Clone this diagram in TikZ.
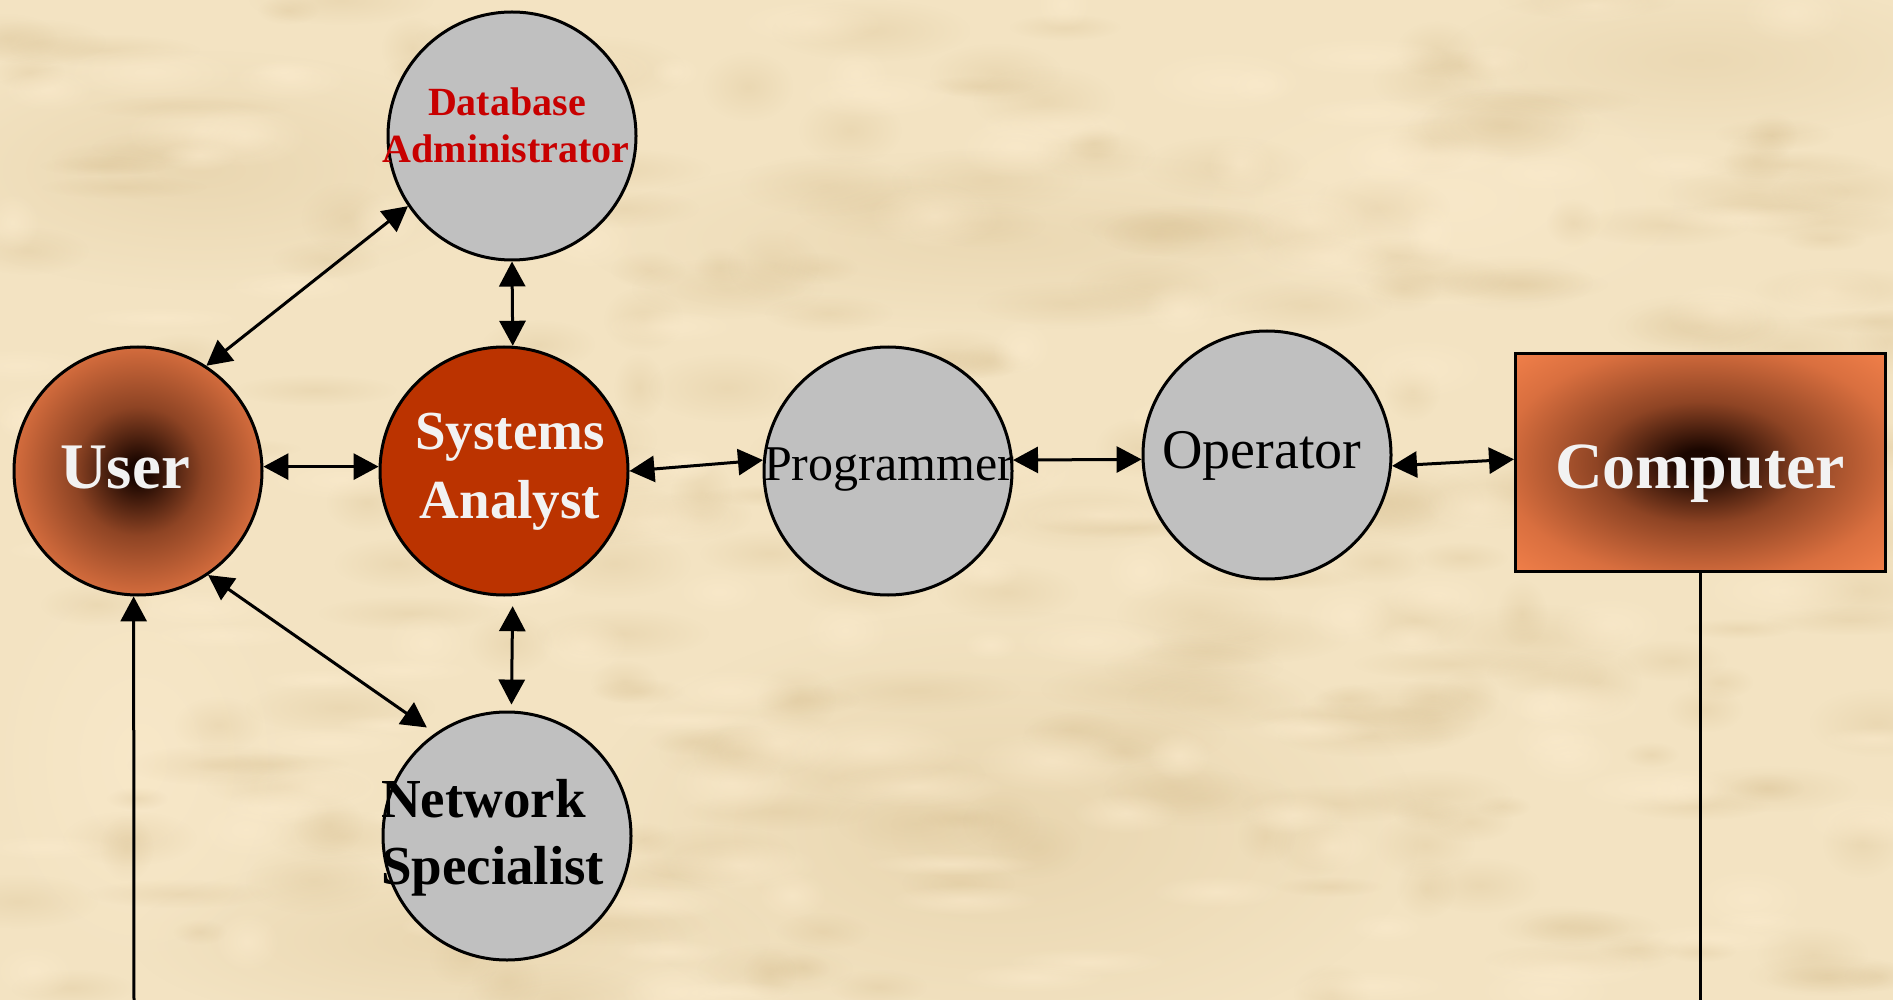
\documentclass[tikz,border=0pt]{standalone}
\usepackage{fontspec}
\setmainfont{Liberation Serif}
\usetikzlibrary{arrows.meta,fadings}

\definecolor{parchment}{HTML}{F3E3C2}
\definecolor{parchdark}{HTML}{D9C193}
\definecolor{parchlight}{HTML}{FBEBCD}
\definecolor{rolegrey}{HTML}{C0C0C0}
\definecolor{analystred}{HTML}{BB3300}
\definecolor{dbared}{HTML}{C80000}
\definecolor{labelwhite}{HTML}{F2F2F2}
\definecolor{glowcore}{HTML}{1A0600}
\definecolor{glowmid}{HTML}{8E4424}
\definecolor{glowedge}{HTML}{D96F3F}
\definecolor{boxedge}{HTML}{F2804A}

% dark core fading out to orange at the rim (50bp reaches the bounding-box corner)
\pgfdeclareradialshading{userglow}{\pgfpoint{0bp}{0bp}}{color(0bp)=(glowcore); color(2bp)=(glowcore); color(13bp)=(glowmid); color(26bp)=(glowedge); color(50bp)=(glowedge)}
\pgfdeclareradialshading{boxglow}{\pgfpoint{0bp}{0bp}}{color(0bp)=(glowcore); color(3bp)=(glowcore); color(14bp)=(glowmid); color(27bp)=(glowedge); color(36bp)=(boxedge); color(50bp)=(boxedge)}

% soft-edged spot used for the paper mottling
\tikzfading[name=softspot, inner color=transparent!0, outer color=transparent!100]

\tikzset{
  role/.style={circle, draw=black, line width=3pt, minimum size=248pt, inner sep=0pt},
  greyrole/.style={role, fill=rolegrey},
  link/.style={line width=3pt, {Triangle[length=25pt,width=26pt]}-{Triangle[length=25pt,width=26pt]}},
  feed/.style={line width=3pt, -{Triangle[length=25pt,width=26pt]}},
  plainline/.style={line width=3pt},
  caption/.style={inner sep=0pt, anchor=base},
  stain/.style={fill=parchdark, path fading=softspot, opacity=#1},
  glint/.style={fill=parchlight, path fading=softspot, opacity=#1},
}

\begin{document}
\begin{tikzpicture}[x=1pt, y=-1pt]
  % parchment backdrop with soft mottling
  \fill[parchment] (0,0) rectangle (1893,1000);
  \useasboundingbox (0,0) rectangle (1893,1000);
  \fill[stain=0.35] (200,170) ellipse (300 and 120);
  \fill[stain=0.30] (1000,240) ellipse (420 and 90);
  \fill[stain=0.40] (1000,830) ellipse (420 and 220);
  \fill[stain=0.35] (450,940) ellipse (320 and 90);
  \fill[stain=0.30] (1700,60) ellipse (260 and 80);
  \fill[glint=0.6] (1450,200) ellipse (280 and 130);
  \fill[glint=0.6] (140,760) ellipse (160 and 220);
  \pgfmathsetseed{4711}
  \foreach \k in {1,...,260}{
    \pgfmathsetmacro{\px}{rnd*1893}
    \pgfmathsetmacro{\py}{rnd*1000}
    \pgfmathsetmacro{\pa}{25+rnd*80}
    \pgfmathsetmacro{\pb}{10+rnd*26}
    \fill[stain=0.32] (\px,\py) ellipse ({\pa} and {\pb});
  }
  \foreach \k in {1,...,140}{
    \pgfmathsetmacro{\px}{rnd*1893}
    \pgfmathsetmacro{\py}{rnd*1000}
    \pgfmathsetmacro{\pa}{25+rnd*70}
    \pgfmathsetmacro{\pb}{10+rnd*24}
    \fill[glint=0.6] (\px,\py) ellipse ({\pa} and {\pb});
  }

  % roles
  \node[greyrole] (dba)  at (512,136) {};
  \node[role, fill=analystred] (sa) at (504,471) {};
  \node[role, shading=userglow] (user) at (138,471) {};
  \node[greyrole] (net)  at (507,836) {};
  \node[greyrole] (prog) at (888,471) {};
  \node[greyrole] (op)   at (1267,455) {};
  \node[rectangle, draw=black, line width=3pt, minimum width=370pt, minimum height=218pt,
        inner sep=0pt, shading=boxglow] (comp) at (1700.5,462.5) {};

  % captions
  \node[caption, font=\fontsize{40}{47}\selectfont\bfseries, text=dbared] (dbaA) at (507,116) {Database};
  \node[caption, font=\fontsize{40}{47}\selectfont\bfseries, text=dbared] (dbaB) at (506,163) {Administrator};
  \node[caption, font=\fontsize{55}{68}\selectfont\bfseries, text=labelwhite] (saA) at (510,449) {Systems};
  \node[caption, font=\fontsize{55}{68}\selectfont\bfseries, text=labelwhite] (saB) at (510,518) {Analyst};
  \node[caption, font=\fontsize{65}{78}\selectfont\bfseries, text=labelwhite] (userT) at (125,488) {User};
  \node[caption, font=\fontsize{50}{60}\selectfont] (progT) at (889,480) {Programmer};
  \node[caption, font=\fontsize{56}{66}\selectfont] (opT) at (1262,468) {Operator};
  \node[caption, font=\fontsize{66}{78}\selectfont\bfseries, text=labelwhite] (compT) at (1700,488) {Computer};
  \node[caption, anchor=base west, font=\fontsize{55}{67}\selectfont\bfseries] (netA) at (381,817) {Network};
  \node[caption, anchor=base west, font=\fontsize{55}{67}\selectfont\bfseries] (netB) at (381,884) {Specialist};

  % free ends of the two vertical lines
  \coordinate (userfoot) at (134,1000);
  \coordinate (compfoot) at (1700.5,1000);

  % connectors
  \draw[link] (user.57) -- (dba.214);
  \draw[link] (dba.south) -- (sa.86);
  \draw[link] (user.2) -- (sa.178);
  \draw[link] (sa.0) -- (prog.175);
  \draw[link] (prog.5) -- (op.182);
  \draw[link] (op.-5) -- (comp.179);
  \draw[link, shorten <=10pt, shorten >=6pt] (sa.-86) -- (net.88);
  \draw[link, shorten >=10pt] (user.-56) -- (net.125);
  \draw[feed] (userfoot) -- (user.268);
  \draw[plainline] (comp.south) -- (compfoot);
\end{tikzpicture}
\end{document}
